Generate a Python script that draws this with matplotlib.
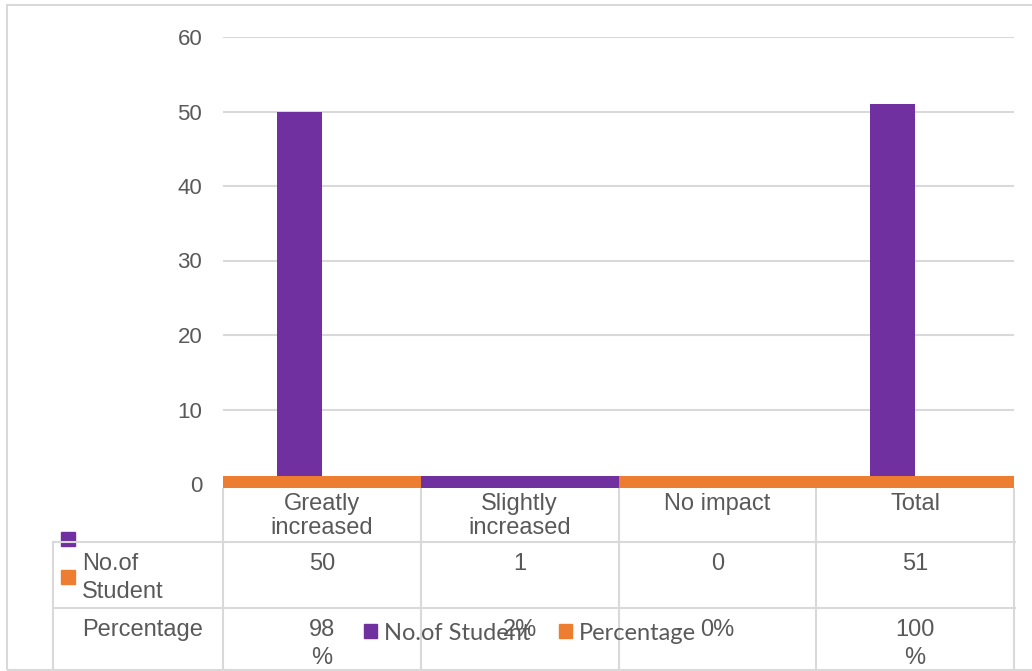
import matplotlib.pyplot as plt
import matplotlib.transforms as mtransforms
from matplotlib.patches import Rectangle
from matplotlib.lines import Line2D

categories = ["Greatly\nincreased", "Slightly\nincreased", "No impact", "Total"]
students = [50, 1, 0, 51]
percentage = [0.98, 0.02, 0.0, 1.0]
student_labels = ["50", "1", "0", "51"]
percent_labels = ["98\n%", "2%", "0%", "100\n%"]
series_names = ["No.of\nStudent", "Percentage"]
legend_names = ["No.of Student", "Percentage"]

PURPLE = "#7030A0"
ORANGE = "#ED7D31"
GRID = "#D9D9D9"
TXT = "#595959"

W, H = 1032, 671
fig = plt.figure(figsize=(W / 100, H / 100), dpi=100)
plt.rcParams['font.family'] = ['Liberation Sans', 'DejaVu Sans']


def fx(x):
    return x / W


def fy(y):
    return 1 - y / H


ax = fig.add_axes([fx(223), fy(484), fx(1014) - fx(223), fy(37) - fy(484)])
x = list(range(len(categories)))
bw = 0.227

# main bars
ax.bar([i - bw / 2 for i in x], students, width=bw, color=PURPLE, zorder=2)
ax.bar([i + bw / 2 for i in x], percentage, width=bw, color=ORANGE, zorder=2)

# the flat strip along the zero line (as rendered in the original)
band_colors = [ORANGE, PURPLE, ORANGE, ORANGE]
ax.bar(x, [1.55] * len(x), bottom=-0.53, width=1.0, color=band_colors,
       zorder=3, clip_on=False)

ax.set_xlim(-0.5, len(categories) - 0.5)
ax.set_ylim(0, 60)
ax.set_yticks(range(0, 61, 10))
ax.set_xticks([])
ax.grid(axis='y', color=GRID, linewidth=1.5, zorder=0)
ax.set_axisbelow(True)
for s in ax.spines.values():
    s.set_visible(False)
ax.tick_params(axis='y', length=0, pad=15, labelsize=16, labelcolor=TXT)

# ---- data table below the plot ----
trans = mtransforms.blended_transform_factory(ax.transData, fig.transFigure)
tsize = 17

for i, cat in enumerate(categories):
    fig.text(i, fy(493), cat, transform=trans, ha='center', va='top',
             fontsize=tsize, color=TXT, linespacing=1.1)
    fig.text(i, fy(553), student_labels[i], transform=trans, ha='center',
             va='top', fontsize=tsize, color=TXT, linespacing=1.35)
    fig.text(i, fy(619), percent_labels[i], transform=trans, ha='center',
             va='top', fontsize=tsize, color=TXT, linespacing=1.35)

fig.text(fx(82), fy(553), series_names[0], ha='left', va='top',
         fontsize=tsize, color=TXT, linespacing=1.35)
fig.text(fx(82), fy(619), series_names[1], ha='left', va='top',
         fontsize=tsize, color=TXT, linespacing=1.35)

# grid lines of the table
for i in range(len(categories) + 1):
    fig.add_artist(Line2D([i - 0.5, i - 0.5], [fy(489), fy(671)],
                          transform=trans, color=GRID, linewidth=1.5))
for yy in (542, 608):
    fig.add_artist(Line2D([fx(53), fx(1015)], [fy(yy), fy(yy)],
                          color=GRID, linewidth=1.5))
fig.add_artist(Line2D([fx(53), fx(53)], [fy(542), fy(671)],
                      color=GRID, linewidth=1.5))

# legend keys in the table
fig.add_artist(Rectangle((fx(61), fy(546)), fx(14), 14 / H, color=PURPLE))
fig.add_artist(Rectangle((fx(61), fy(584)), fx(14), 14 / H, color=ORANGE))

# outer chart border
fig.add_artist(Rectangle((fx(7), fy(670)), fx(1040), 665 / H, fill=False,
                         edgecolor=GRID, linewidth=1.5))

# legend
handles = [Rectangle((0, 0), 1, 1, color=PURPLE),
           Rectangle((0, 0), 1, 1, color=ORANGE)]
leg = fig.legend(handles, legend_names, loc='center',
                 bbox_to_anchor=(fx(530), fy(633)), ncol=2, frameon=False,
                 handlelength=0.55, handleheight=0.55, handletextpad=0.3,
                 columnspacing=1.2, prop={'family': 'Lato', 'size': 17})
for t in leg.get_texts():
    t.set_color(TXT)

fig.savefig("out.png", dpi=100)
